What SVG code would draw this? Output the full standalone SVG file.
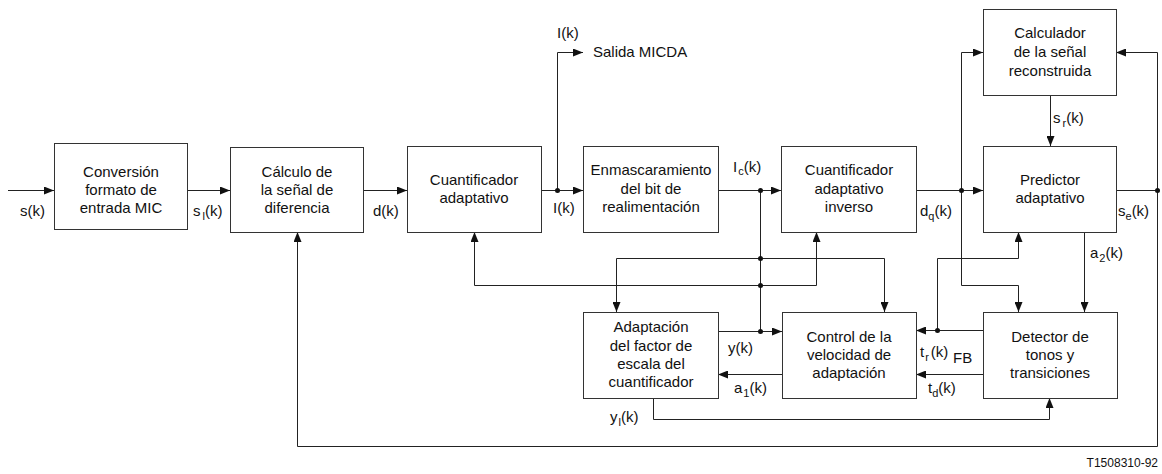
<svg xmlns="http://www.w3.org/2000/svg" width="1162" height="474" viewBox="0 0 1162 474">
<defs>
<style>
.box{fill:#fff;stroke:#333;stroke-width:1}
.ln{fill:none;stroke:#222;stroke-width:1}
.t{font-family:"Liberation Sans",Arial,sans-serif;font-size:15px;fill:#111}
.c{text-anchor:middle}
.dot{fill:#111}
.sub{font-size:11px}
</style>
<marker id="ah" markerUnits="userSpaceOnUse" markerWidth="10" markerHeight="8" refX="10" refY="4" orient="auto">
<path d="M0,0 L10,4 L0,8 z" fill="#111"/>
</marker>
</defs>
<rect width="1162" height="474" fill="#fff"/>

<g id="connectors">
<path class="ln" d="M8,190.5 H54" marker-end="url(#ah)"/>
<path class="ln" d="M187,190.5 H230" marker-end="url(#ah)"/>
<path class="ln" d="M363,190.5 H407" marker-end="url(#ah)"/>
<path class="ln" d="M541,190.5 H583" marker-end="url(#ah)"/>
<path class="ln" d="M557.5,190 V52.5 H583" marker-end="url(#ah)"/>
<path class="ln" d="M718,190.5 H781" marker-end="url(#ah)"/>
<path class="ln" d="M760.5,190 V331"/>
<path class="ln" d="M916,190.5 H983" marker-end="url(#ah)"/>
<path class="ln" d="M961.5,190 V52.5 H983" marker-end="url(#ah)"/>
<path class="ln" d="M961.5,190 V285.5 H1018.5 V312" marker-end="url(#ah)"/>
<path class="ln" d="M1050.5,95 V146" marker-end="url(#ah)"/>
<path class="ln" d="M1116,190.5 H1157.5"/>
<path class="ln" d="M1157.5,190 V52.5 H1116" marker-end="url(#ah)"/>
<path class="ln" d="M1157.5,190 V446.5 H297.5 V232" marker-end="url(#ah)"/>
<path class="ln" d="M1084.5,232 V312" marker-end="url(#ah)"/>
<path class="ln" d="M760.5,258.5 H616.5 V312" marker-end="url(#ah)"/>
<path class="ln" d="M760.5,258.5 H884.5 V312" marker-end="url(#ah)"/>
<path class="ln" d="M760.5,285.5 H474.5 V232" marker-end="url(#ah)"/>
<path class="ln" d="M760.5,285.5 H816.5 V232" marker-end="url(#ah)"/>
<path class="ln" d="M718,331.5 H782" marker-end="url(#ah)"/>
<path class="ln" d="M782,374.5 H718" marker-end="url(#ah)"/>
<path class="ln" d="M653.5,398 V419.5 H1049.5 V398" marker-end="url(#ah)"/>
<path class="ln" d="M983,330.5 H916" marker-end="url(#ah)"/>
<path class="ln" d="M937.5,330.5 V258.5 H1018.5 V232" marker-end="url(#ah)"/>
<path class="ln" d="M983,374.5 H916" marker-end="url(#ah)"/>
<circle class="dot" cx="557.5" cy="190.5" r="2.5"/>
<circle class="dot" cx="760.5" cy="190.5" r="2.5"/>
<circle class="dot" cx="961.5" cy="190.5" r="2.5"/>
<circle class="dot" cx="1157.5" cy="190.5" r="2.5"/>
<circle class="dot" cx="760.5" cy="258.5" r="2.5"/>
<circle class="dot" cx="760.5" cy="285.5" r="2.5"/>
<circle class="dot" cx="760.5" cy="331.5" r="2.5"/>
<circle class="dot" cx="937.5" cy="330.5" r="2.5"/>
</g>

<g id="labels" class="t">
<text x="20" y="216">s(k)</text>
<text x="193" y="216">s<tspan class="sub" dx="2" dy="4">l</tspan><tspan dy="-4">(k)</tspan></text>
<text x="373" y="216">d(k)</text>
<text x="553" y="213">I(k)</text>
<text x="557" y="38">I(k)</text>
<text x="593" y="57">Salida MICDA</text>
<text x="733" y="172">I<tspan class="sub" dx="1" dy="3">c</tspan><tspan dy="-3">(k)</tspan></text>
<text x="920" y="216">d<tspan class="sub" dy="4">q</tspan><tspan dy="-4">(k)</tspan></text>
<text x="1053" y="123">s<tspan class="sub" dx="2" dy="4">r</tspan><tspan dy="-4">(k)</tspan></text>
<text x="1118" y="216">s<tspan class="sub" dy="4">e</tspan><tspan dy="-4">(k)</tspan></text>
<text x="1090" y="258">a<tspan class="sub" dx="1" dy="4">2</tspan><tspan dy="-4">(k)</tspan></text>
<text x="728" y="353">y(k)</text>
<text x="734" y="393">a<tspan class="sub" dx="1" dy="4">1</tspan><tspan dy="-4">(k)</tspan></text>
<text x="610" y="422">y<tspan class="sub" dx="1" dy="4">l</tspan><tspan dy="-4">(k)</tspan></text>
<text x="920" y="357">t<tspan class="sub" dx="1" dy="4">r</tspan><tspan dx="2" dy="-4">(k)</tspan></text>
<text x="953" y="363">FB</text>
<text x="928" y="393">t<tspan class="sub" dy="4">d</tspan><tspan dy="-4">(k)</tspan></text>
<text x="1158" y="467" text-anchor="end" style="font-size:12px">T1508310-92</text>
</g>

<g id="n1"><rect class="box" x="54.5" y="143.5" width="133" height="86"/>
<text class="t c" x="121" y="177">Conversión</text><text class="t c" x="121" y="195">formato de</text><text class="t c" x="121" y="213">entrada MIC</text></g>

<g id="n2"><rect class="box" x="230.5" y="147.5" width="133" height="85"/>
<text class="t c" x="297" y="177">Cálculo de</text><text class="t c" x="297" y="195">la señal de</text><text class="t c" x="297" y="213">diferencia</text></g>

<g id="n3"><rect class="box" x="407.5" y="146.5" width="134" height="86"/>
<text class="t c" x="474" y="185">Cuantificador</text><text class="t c" x="474" y="203">adaptativo</text></g>

<g id="n4"><rect class="box" x="583.5" y="146.5" width="135" height="86"/>
<text class="t c" x="651" y="175">Enmascaramiento</text><text class="t c" x="651" y="194">del bit de</text><text class="t c" x="651" y="212">realimentación</text></g>

<g id="n5"><rect class="box" x="781.5" y="146.5" width="135" height="86"/>
<text class="t c" x="849" y="175">Cuantificador</text><text class="t c" x="849" y="194">adaptativo</text><text class="t c" x="849" y="212">inverso</text></g>

<g id="n6"><rect class="box" x="983.5" y="9.5" width="133" height="86"/>
<text class="t c" x="1050" y="38">Calculador</text><text class="t c" x="1050" y="57">de la señal</text><text class="t c" x="1050" y="76">reconstruida</text></g>

<g id="n7"><rect class="box" x="983.5" y="146.5" width="133" height="86"/>
<text class="t c" x="1050" y="185">Predictor</text><text class="t c" x="1050" y="203">adaptativo</text></g>

<g id="n8"><rect class="box" x="583.5" y="312.5" width="135" height="86"/>
<text class="t c" x="651" y="332">Adaptación</text><text class="t c" x="651" y="351">del factor de</text><text class="t c" x="651" y="369">escala del</text><text class="t c" x="651" y="387">cuantificador</text></g>

<g id="n9"><rect class="box" x="782.5" y="312.5" width="134" height="86"/>
<text class="t c" x="849" y="342">Control de la</text><text class="t c" x="849" y="360">velocidad de</text><text class="t c" x="849" y="378">adaptación</text></g>

<g id="n10"><rect class="box" x="983.5" y="312.5" width="134" height="86"/>
<text class="t c" x="1050" y="342">Detector de</text><text class="t c" x="1050" y="360">tonos y</text><text class="t c" x="1050" y="378">transiciones</text></g>
</svg>
